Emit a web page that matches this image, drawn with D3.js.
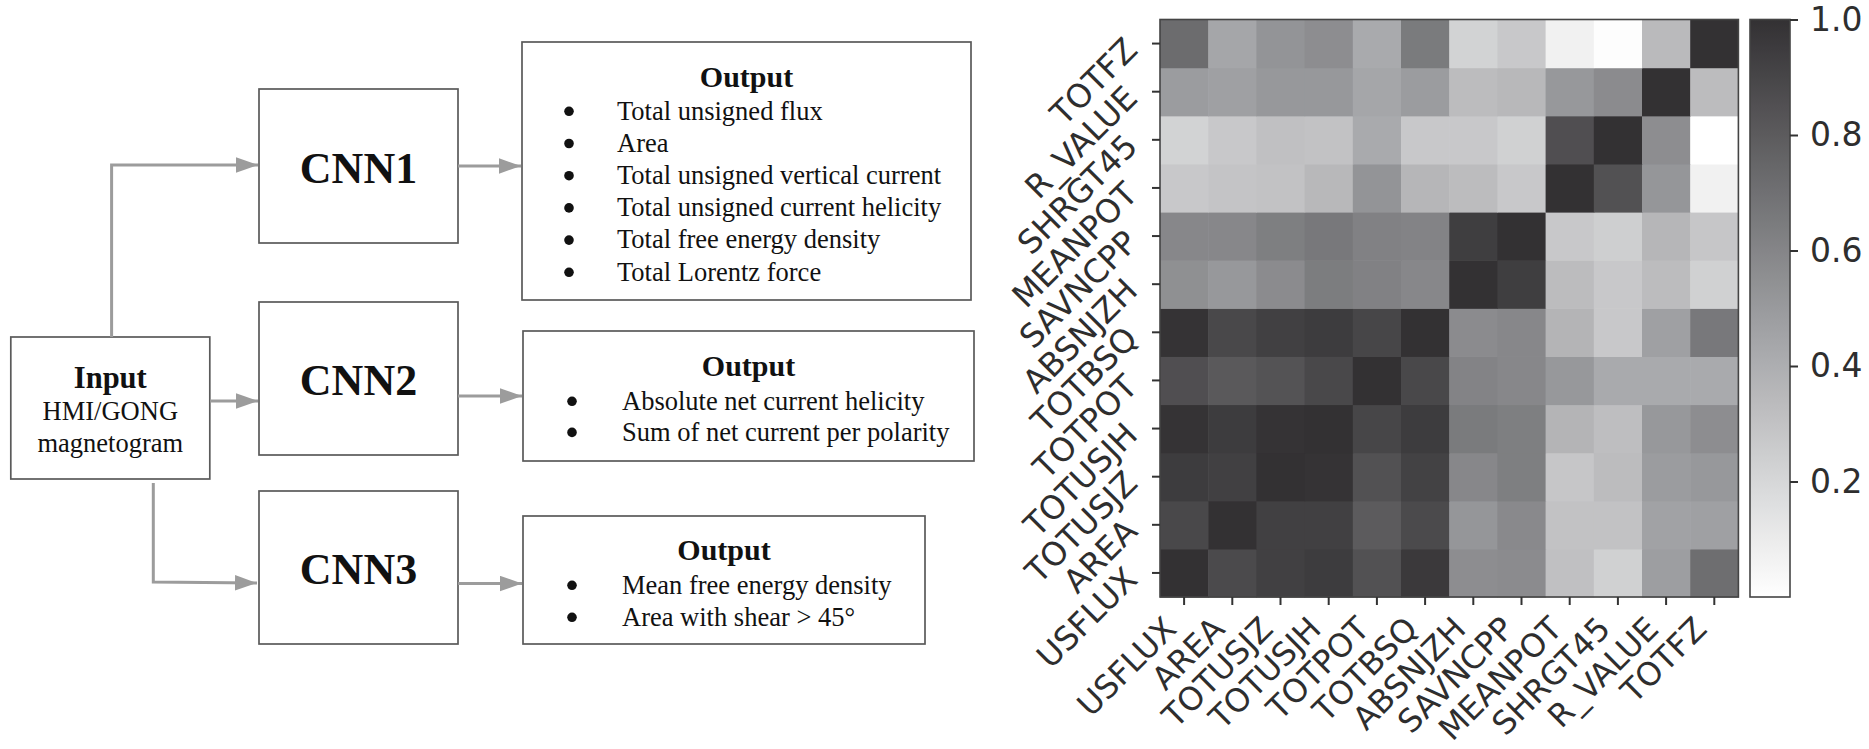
<!DOCTYPE html>
<html><head><meta charset="utf-8">
<script src="https://cdn.jsdelivr.net/npm/d3@7"></script>
<style>html,body{margin:0;padding:0;background:#fff;} svg{display:block;}</style>
</head><body>
<svg id="chart" width="1869" height="749"></svg>
<script>
// ---------- data ----------
const features = ["USFLUX","AREA","TOTUSJZ","TOTUSJH","TOTPOT","TOTBSQ","ABSNJZH","SAVNCPP","MEANPOT","SHRGT45","R_VALUE","TOTFZ"];
// correlation rows, columns in the order of `features`
const rowUSFLUX  = [1.00,0.88,0.93,0.95,0.85,0.96,0.56,0.57,0.31,0.23,0.48,0.71];
const rowAREA    = [0.89,1.00,0.93,0.93,0.80,0.88,0.52,0.58,0.30,0.30,0.46,0.47];
const rowTOTUSJZ = [0.95,0.93,1.00,0.99,0.85,0.92,0.59,0.63,0.28,0.33,0.49,0.51];
const rowTOTUSJH = [0.99,0.95,0.99,1.00,0.90,0.95,0.65,0.63,0.37,0.32,0.51,0.56];
const rowTOTPOT  = [0.86,0.81,0.84,0.89,1.00,0.89,0.61,0.59,0.51,0.42,0.42,0.42];
const rowTOTBSQ  = [0.99,0.89,0.93,0.95,0.90,1.00,0.57,0.59,0.37,0.27,0.47,0.66];
const rowABSNJZH = [0.55,0.51,0.57,0.64,0.62,0.59,1.00,0.94,0.33,0.27,0.33,0.23];
const rowSAVNCPP = [0.59,0.59,0.63,0.66,0.62,0.61,0.94,1.00,0.27,0.24,0.36,0.28];
const rowMEANPOT = [0.27,0.29,0.30,0.35,0.53,0.36,0.33,0.27,1.00,0.85,0.52,0.07];
const rowSHRGT45 = [0.22,0.27,0.31,0.30,0.42,0.27,0.27,0.23,0.86,1.00,0.56,0.00];
const rowR_VALUE = [0.49,0.47,0.51,0.51,0.44,0.49,0.33,0.35,0.51,0.57,1.00,0.33];
const rowTOTFZ   = [0.72,0.44,0.53,0.56,0.42,0.65,0.22,0.27,0.07,0.01,0.34,1.00];
const colorbarTicks = [0.2,0.4,0.6,0.8,1.0];

const inputTitle = "Input";
const inputLines = ["HMI/GONG","magnetogram"];
const networks = ["CNN1","CNN2","CNN3"];
const outputTitle = "Output";
const outputs1 = ["Total unsigned flux","Area","Total unsigned vertical current","Total unsigned current helicity","Total free energy density","Total Lorentz force"];
const outputs2 = ["Absolute net current helicity","Sum of net current per polarity"];
const outputs3 = ["Mean free energy density","Area with shear > 45°"];

// ---------- setup ----------
const svg = d3.select("#chart");
const serif = "'Liberation Serif','Times New Roman',serif";
const sans = "'DejaVu Sans',sans-serif";
const boxStroke = "#5a5a5a";
const arrowColor = "#9c9c9c";

svg.append("defs").append("marker")
  .attr("id","ah").attr("markerUnits","userSpaceOnUse")
  .attr("markerWidth",22).attr("markerHeight",16)
  .attr("viewBox","0 0 20 14").attr("refX",20).attr("refY",7)
  .attr("orient","auto")
  .append("path").attr("d","M0,0 L20,7 L0,14 Z").attr("fill",arrowColor);

const flow = svg.append("g");

// input box
flow.append("rect").attr("x",10.8).attr("y",337).attr("width",199).attr("height",142)
  .attr("fill","#fff").attr("stroke",boxStroke).attr("stroke-width",1.7);
flow.append("text").attr("x",110.3).attr("y",388).attr("text-anchor","middle")
  .attr("font-family",serif).attr("font-weight","bold").attr("font-size",30.5).attr("fill","#111")
  .text(inputTitle);
flow.selectAll("text.inl").data(inputLines).join("text").attr("class","inl")
  .attr("x",110.3).attr("y",(d,i)=>420.3 + i*31.5).attr("text-anchor","middle")
  .attr("font-family",serif).attr("font-size",26.5).attr("fill","#111").text(d=>d);

// CNN boxes
const cnnY = [89,302,491], cnnH = [154,153,153];
networks.forEach((n,i)=>{
  flow.append("rect").attr("x",259).attr("y",cnnY[i]).attr("width",199).attr("height",cnnH[i])
    .attr("fill","#fff").attr("stroke",boxStroke).attr("stroke-width",1.7);
  flow.append("text").attr("x",358.5).attr("y",cnnY[i]+cnnH[i]/2+16.5).attr("text-anchor","middle")
    .attr("font-family",serif).attr("font-weight","bold").attr("font-size",44).attr("fill","#111")
    .text(n);
});

// output boxes
const outLists = [outputs1, outputs2, outputs3];
const outBox = [{x:522,y:42,w:449,h:258},{x:523,y:331,w:451,h:130},{x:523,y:516,w:402,h:128}];
const titleBase = [87,376,560];
const firstBullet = [111.3,401.3,585.3];
const spacing = [32.2,31.1,32];
const bulletX = [569,572,572], textX = [617,622,622];
outLists.forEach((list,k)=>{
  const b = outBox[k];
  flow.append("rect").attr("x",b.x).attr("y",b.y).attr("width",b.w).attr("height",b.h)
    .attr("fill","#fff").attr("stroke",boxStroke).attr("stroke-width",1.7);
  flow.append("text").attr("x",b.x+b.w/2).attr("y",titleBase[k]).attr("text-anchor","middle")
    .attr("font-family",serif).attr("font-weight","bold").attr("font-size",30).attr("fill","#111")
    .text(outputTitle);
  list.forEach((t,i)=>{
    const cy = firstBullet[k] + i*spacing[k];
    flow.append("circle").attr("cx",bulletX[k]).attr("cy",cy).attr("r",4.8).attr("fill","#111");
    flow.append("text").attr("x",textX[k]).attr("y",cy+8.2)
      .attr("font-family",serif).attr("font-size",26.5).attr("fill","#111").text(t);
  });
});

// arrows
const arrows = [
  [[111.6,337],[111.6,165],[258,165]],
  [[210,401],[258,401]],
  [[153.3,483],[153.3,582],[257,583]],
  [[458,166],[521,166]],
  [[458,396],[522,396]],
  [[458,583.5],[522,583.5]]
];
flow.selectAll("path.arr").data(arrows).join("path").attr("class","arr")
  .attr("d",d=>d3.line()(d)).attr("fill","none").attr("stroke",arrowColor)
  .attr("stroke-width",3).attr("marker-end","url(#ah)");

// ---------- heatmap ----------
const matrix = [rowUSFLUX,rowAREA,rowTOTUSJZ,rowTOTUSJH,rowTOTPOT,rowTOTBSQ,rowABSNJZH,rowSAVNCPP,rowMEANPOT,rowSHRGT45,rowR_VALUE,rowTOTFZ];
const hmL = 1160, hmR = 1738.4, hmT = 19.5, hmB = 597;
const x = d3.scaleBand().domain(features).range([hmL,hmR]);
const y = d3.scaleBand().domain(features.slice().reverse()).range([hmT,hmB]);
const color = d3.scaleLinear().domain([0,0.5,1]).range(["#ffffff","#999a9d","#333133"]).clamp(true);

const cells = [];
matrix.forEach((row,i)=>row.forEach((v,j)=>cells.push({r:features[i],c:features[j],v})));
const hm = svg.append("g");
hm.selectAll("rect.cell").data(cells).join("rect").attr("class","cell")
  .attr("x",d=>x(d.c)).attr("y",d=>y(d.r))
  .attr("width",x.bandwidth()+0.6).attr("height",y.bandwidth()+0.6)
  .attr("fill",d=>color(d.v));
hm.append("rect").attr("x",hmL).attr("y",hmT).attr("width",hmR-hmL).attr("height",hmB-hmT)
  .attr("fill","none").attr("stroke","#444").attr("stroke-width",1.6);

const labelColor = "#2e2e2e";
const yAxis = svg.append("g").attr("transform",`translate(${hmL},0)`)
  .call(d3.axisLeft(y).tickSize(8).tickSizeOuter(0));
const xAxis = svg.append("g").attr("transform",`translate(0,${hmB})`)
  .call(d3.axisBottom(x).tickSize(8).tickSizeOuter(0));
[xAxis,yAxis].forEach(a=>{
  a.select(".domain").remove();
  a.selectAll(".tick line").attr("stroke","#333").attr("stroke-width",2);
  a.selectAll(".tick text").attr("font-family",sans).attr("fill",labelColor)
    .attr("text-anchor","end").attr("x",0).attr("y",0).attr("dy","0.36em");
});
yAxis.selectAll(".tick text").attr("font-size",32.5).attr("transform","translate(-29,0) rotate(-45)");
xAxis.selectAll(".tick text").attr("font-size",32).attr("transform","translate(-14,25.5) rotate(-45)");

// ---------- colorbar ----------
const cbX = 1750, cbW = 40;
const cbScale = d3.scaleLinear().domain([0,1]).range([hmB, hmT]);
const grad = svg.select("defs").append("linearGradient").attr("id","cbg")
  .attr("x1","0").attr("y1","1").attr("x2","0").attr("y2","0");
d3.range(0,1.0001,0.05).forEach(t=>grad.append("stop").attr("offset",t).attr("stop-color",color(t)));
svg.append("rect").attr("x",cbX).attr("y",hmT).attr("width",cbW).attr("height",hmB-hmT)
  .attr("fill","url(#cbg)").attr("stroke","#444").attr("stroke-width",1.6);
const cbAxis = svg.append("g").attr("transform",`translate(${cbX+cbW},0)`)
  .call(d3.axisRight(cbScale).tickValues(colorbarTicks).tickFormat(d3.format(".1f")).tickSize(8).tickPadding(12));
cbAxis.select(".domain").remove();
cbAxis.selectAll(".tick line").attr("stroke","#333").attr("stroke-width",2);
cbAxis.selectAll(".tick text").attr("font-family",sans).attr("font-size",33).attr("fill",labelColor);
</script>
</body></html>
